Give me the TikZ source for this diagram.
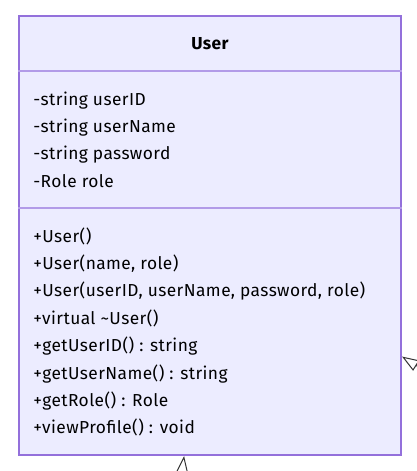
\documentclass[tikz,border=0pt]{standalone}
\usepackage{fontspec}
\setmainfont{Fira Sans}[LetterSpace=2.5]
\usetikzlibrary{arrows.meta}
\definecolor{classfill}{HTML}{ECECFF}
\definecolor{classline}{HTML}{9370DB}
\definecolor{edgeline}{HTML}{333333}
\begin{document}
\begin{tikzpicture}[x=0.75pt,y=-0.75pt,
    member/.style={anchor=base west,inner sep=0pt,font=\fontsize{13}{15}\selectfont},
    divider/.style={draw=classline!65!classfill,line width=1.5pt},
    extends/.style={draw=edgeline,line width=0.75pt,-{Triangle[open,length=12.75pt,width=9pt]}}]
  \useasboundingbox (0,0) rectangle (417,471);
  \clip (0,0) rectangle (417,471);
  \node[draw=classline,fill=classfill,line width=1.5pt,inner sep=0pt,
        minimum width=286.5pt,minimum height=329.25pt] (user) at (210,235.5) {};
  \draw[divider] (user.west |- 0,71) -- (user.east |- 0,71);
  \draw[divider] (user.west |- 0,208) -- (user.east |- 0,208);
  \node[anchor=base,inner sep=0pt,font=\fontsize{13}{15}\selectfont\bfseries] (title) at (210,49) {User};
  % attributes
  \foreach \txt [count=\i] in {-string userID,-string userName,-string password,-Role role}
    \node[member] (attr\i) at (33,{105+27.35*(\i-1)}) {\txt};
  % operations
  \foreach \txt [count=\i] in {+User(),{+User(name, role)},{+User(userID, userName, password, role)},
      +virtual \textasciitilde User(),+getUserID() : string,+getUserName() : string,
      +getRole() : Role,+viewProfile() : void}
    \node[member] (op\i) at (33,{242+27.4*(\i-1)}) {\txt};
  % subclasses off the picture
  \coordinate (childR) at (458,392);
  \coordinate (childB) at (179,499);
  \draw[extends] (childR) -- (user);
  \draw[extends] (childB) -- (user);
\end{tikzpicture}
\end{document}
